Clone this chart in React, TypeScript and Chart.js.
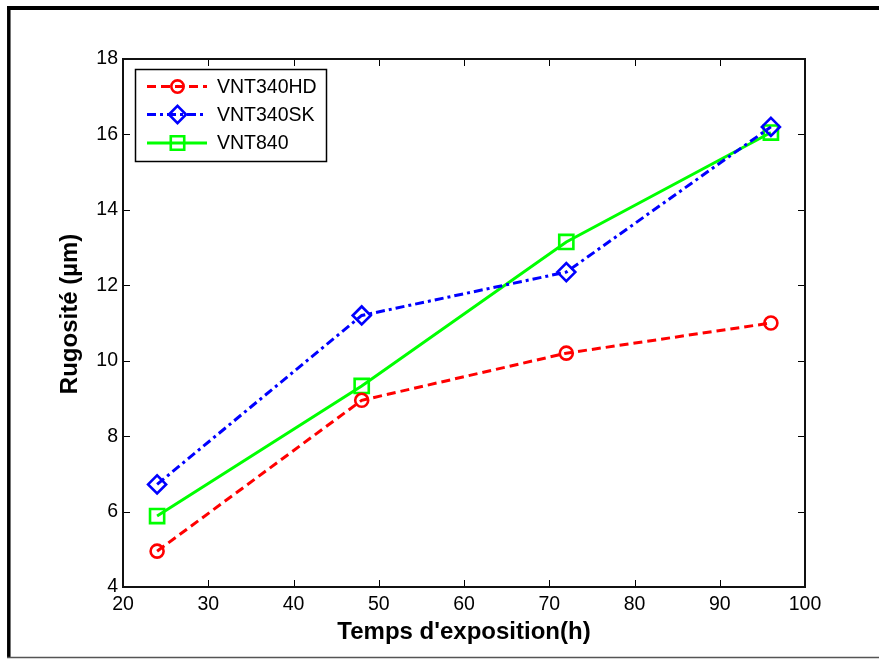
import React, { useEffect, useRef } from 'react';
import { Chart, registerables } from 'chart.js';
import { drawPoint } from 'chart.js/helpers';

Chart.register(...registerables);

// ---- data ----
const hours = [24, 48, 72, 96];
const vnt340hd = [4.95, 8.95, 10.2, 11.0];
const vnt340sk = [6.72, 11.2, 12.35, 16.2];
const vnt840 = [5.88, 9.33, 13.15, 16.05];
const seriesNames = ['VNT340HD', 'VNT340SK', 'VNT840'];
const xTicks = [20, 30, 40, 50, 60, 70, 80, 90, 100];
const yTicks = [4, 6, 8, 10, 12, 14, 16, 18];
const xTitle = "Temps d'exposition(h)";
const yTitle = 'Rugosité (µm)';

const FONT = "'Liberation Sans', Arial, sans-serif";

const framePlugin = {
  id: 'matlabFrame',
  beforeDatasetsDraw(chart: any) {
    const { ctx, chartArea: a, scales } = chart;
    ctx.save();
    // inward ticks on all four sides
    ctx.strokeStyle = '#000';
    ctx.lineWidth = 1;
    ctx.beginPath();
    for (const v of xTicks) {
      const px = Math.round(scales.x.getPixelForValue(v)) + 0.5;
      ctx.moveTo(px, a.bottom);
      ctx.lineTo(px, a.bottom - 7);
      ctx.moveTo(px, a.top);
      ctx.lineTo(px, a.top + 7);
    }
    for (const v of yTicks) {
      const py = Math.round(scales.y.getPixelForValue(v)) + 0.5;
      ctx.moveTo(a.left, py);
      ctx.lineTo(a.left + 7, py);
      ctx.moveTo(a.right, py);
      ctx.lineTo(a.right - 7, py);
    }
    ctx.stroke();
    // axes box
    ctx.lineWidth = 2;
    ctx.strokeStyle = '#111';
    ctx.strokeRect(a.left, a.top, a.right - a.left, a.bottom - a.top);
    ctx.restore();
  },
  afterDraw(chart: any) {
    const { ctx } = chart;
    ctx.save();
    // outer figure frame
    ctx.strokeStyle = '#000';
    ctx.lineWidth = 4;
    ctx.beginPath();
    ctx.moveTo(7, 8);
    ctx.lineTo(chart.width, 8);
    ctx.stroke();
    ctx.lineWidth = 3.5;
    ctx.beginPath();
    ctx.moveTo(8.8, 6);
    ctx.lineTo(8.8, 658);
    ctx.stroke();
    ctx.strokeStyle = '#555';
    ctx.lineWidth = 1.5;
    ctx.beginPath();
    ctx.moveTo(7, 657.5);
    ctx.lineTo(chart.width, 657.5);
    ctx.stroke();

    // legend box
    const bx = 135.5, by = 69.5, bw = 191, bh = 92;
    ctx.fillStyle = '#fff';
    ctx.fillRect(bx, by, bw, bh);
    ctx.strokeStyle = '#000';
    ctx.lineWidth = 1.5;
    ctx.strokeRect(bx, by, bw, bh);
    const rows = [86.5, 114.5, 143];
    chart.data.datasets.forEach((ds: any, i: number) => {
      const y = rows[i];
      ctx.save();
      ctx.strokeStyle = ds.borderColor;
      ctx.lineWidth = ds.borderWidth;
      ctx.setLineDash(ds.borderDash || []);
      ctx.beginPath();
      ctx.moveTo(147, y);
      ctx.lineTo(207, y);
      ctx.stroke();
      ctx.setLineDash([]);
      ctx.strokeStyle = ds.pointBorderColor;
      ctx.fillStyle = 'rgba(0,0,0,0)';
      ctx.lineWidth = ds.pointBorderWidth;
      drawPoint(ctx, { pointStyle: ds.pointStyle, radius: ds.pointRadius * 0.95, rotation: 0, borderWidth: ds.pointBorderWidth }, 177.5, y);
      ctx.restore();
      ctx.fillStyle = '#000';
      ctx.font = `19.5px ${FONT}`;
      ctx.textAlign = 'left';
      ctx.textBaseline = 'middle';
      ctx.fillText(ds.label, 217, y + 1);
    });
    ctx.restore();
  },
};

export default function App() {
  const ref = useRef<HTMLCanvasElement | null>(null);
  useEffect(() => {
    if (!ref.current) return;
    const mk = (label: string, data: number[], color: string, style: string, radius: number, dash: number[]) => ({
      label,
      data: hours.map((h, i) => ({ x: h, y: data[i] })),
      borderColor: color,
      backgroundColor: color,
      borderWidth: 3,
      borderDash: dash,
      pointStyle: style,
      pointRadius: radius,
      pointBorderColor: color,
      pointBackgroundColor: 'rgba(0,0,0,0)',
      pointBorderWidth: 2.6,
      tension: 0,
      fill: false,
    });
    const chart = new Chart(ref.current, {
      type: 'line',
      data: {
        datasets: [
          mk(seriesNames[0], vnt340hd, '#ff0000', 'circle', 6.5, [9, 5]),
          mk(seriesNames[1], vnt340sk, '#0000ff', 'rectRot', 9, [9, 4, 3, 4]),
          mk(seriesNames[2], vnt840, '#00ff00', 'rect', 10, []),
        ],
      },
      options: {
        animation: false,
        responsive: true,
        maintainAspectRatio: false,
        layout: { padding: { top: 59, right: 74, left: 0, bottom: 0 } },
        plugins: { legend: { display: false }, tooltip: { enabled: false } },
        scales: {
          x: {
            type: 'linear',
            min: 20,
            max: 100,
            afterBuildTicks: (s: any) => { s.ticks = xTicks.map((v) => ({ value: v })); },
            afterFit: (s: any) => { s.height = 72; },
            grid: { display: false, drawTicks: false },
            border: { display: false },
            ticks: { color: '#000', padding: 6, font: { family: FONT, size: 19.5 }, maxRotation: 0 },
            title: { display: true, text: xTitle, color: '#000', font: { family: FONT, size: 24, weight: 'bold' }, padding: { top: 0, bottom: 12.6 } },
          },
          y: {
            type: 'linear',
            min: 4,
            max: 18,
            afterBuildTicks: (s: any) => { s.ticks = yTicks.map((v) => ({ value: v })); },
            afterFit: (s: any) => { s.width = 123; },
            grid: { display: false, drawTicks: false },
            border: { display: false },
            ticks: { color: '#000', padding: 5, font: { family: FONT, size: 19.5 } },
            title: { display: true, text: '\u00a0\u00a0\u2009' + yTitle, color: '#000', font: { family: FONT, size: 24, weight: 'bold' }, padding: { top: 56, bottom: 0 } },
          },
        },
      },
      plugins: [framePlugin],
    } as any);
    return () => chart.destroy();
  }, []);
  return (
    <div style={{ position: 'absolute', left: 0, top: 0, width: 879, height: 659, background: '#fff' }}>
      <canvas ref={ref} />
    </div>
  );
}
